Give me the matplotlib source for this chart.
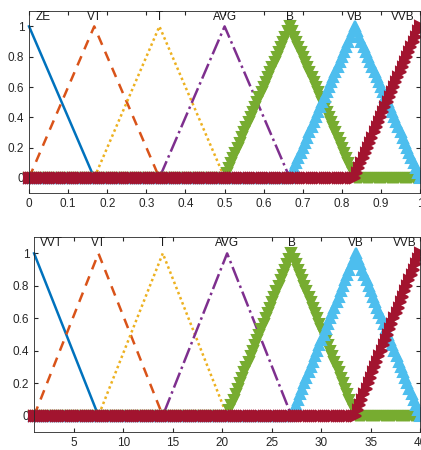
import numpy as np
import matplotlib
matplotlib.use('Agg')
import matplotlib.pyplot as plt

plt.rcParams['font.family'] = ['Liberation Sans', 'DejaVu Sans']

# triangular membership functions (left, peak, right)
top_names = ['ZE', 'VT', 'T', 'AVG', 'B', 'VB', 'VVB']
top_params = [(0, 0, 1/6), (0, 1/6, 2/6), (1/6, 2/6, 3/6), (2/6, 3/6, 4/6),
              (3/6, 4/6, 5/6), (4/6, 5/6, 1), (5/6, 1, 1)]
top_label_x = [0.035, 1/6, 2/6, 0.5, 4/6, 5/6, 0.955]

bot_names = ['VVT', 'VT', 'T', 'AVG', 'B', 'VB', 'VVB']
bot_params = [(1, 1, 7.5), (1, 7.5, 14), (7.5, 14, 20.5), (14, 20.5, 27),
              (20.5, 27, 33.5), (27, 33.5, 40), (33.5, 40, 40)]
bot_label_x = [2.7, 7.5, 14, 20.5, 27, 33.5, 38.4]

n_points = 181  # plotmf default sampling

colors = ['#0072BD', '#D95319', '#EDB120', '#7E2F8E', '#77AC30', '#4DBEEE', '#A2142F']
styles = [dict(ls='-'), dict(ls=(0, (4, 3))), dict(ls=(0, (1, 1.2))), dict(ls='-.'),
          dict(ls='-', marker='v'), dict(ls='-', marker='^'), dict(ls='-', marker='>')]


def trimf(x, a, b, c):
    y = np.zeros_like(x)
    if b > a:
        m = (x >= a) & (x <= b)
        y[m] = (x[m] - a) / (b - a)
    else:
        y[x == b] = 1
    if c > b:
        m = (x >= b) & (x <= c)
        y[m] = (c - x[m]) / (c - b)
    return y


def draw(ax, x, params, names, label_x, xlim, xticks):
    for p, c, st in zip(params, colors, styles):
        ax.plot(x, trimf(x, *p), color=c, lw=1.8, ms=7.5, mew=1.5, clip_on=False, **st)
    for n, lx in zip(names, label_x):
        ax.text(lx, 1.065, n, ha='center', va='center', fontsize=8.5, color='#1a1a1a')
    ax.set_xlim(xlim)
    ax.set_ylim(-0.1, 1.1)
    ax.set_xticks(xticks)
    ax.set_yticks([0, 0.2, 0.4, 0.6, 0.8, 1])
    ax.set_yticklabels(['0', '0.2', '0.4', '0.6', '0.8', '1'])
    ax.tick_params(direction='in', top=True, right=True, labelsize=8.5, length=3,
                   color='#262626', labelcolor='#262626')
    for s in ax.spines.values():
        s.set_color('#262626')
        s.set_linewidth(0.6)


fig = plt.figure(figsize=(4.21, 4.5), dpi=100)

ax1 = fig.add_axes([0.069, 0.571, 0.929, 0.404])
x1 = np.linspace(0, 1, n_points)
draw(ax1, x1, top_params, top_names, top_label_x, (0, 1), np.arange(0, 1.01, 0.1))
ax1.set_xticklabels(['0', '0.1', '0.2', '0.3', '0.4', '0.5', '0.6', '0.7', '0.8', '0.9', '1'])

ax2 = fig.add_axes([0.081, 0.04, 0.917, 0.433])
x2 = np.linspace(1, 40, n_points)
draw(ax2, x2, bot_params, bot_names, bot_label_x, (1, 40), [5, 10, 15, 20, 25, 30, 35, 40])

fig.savefig('out.png', dpi=100)
